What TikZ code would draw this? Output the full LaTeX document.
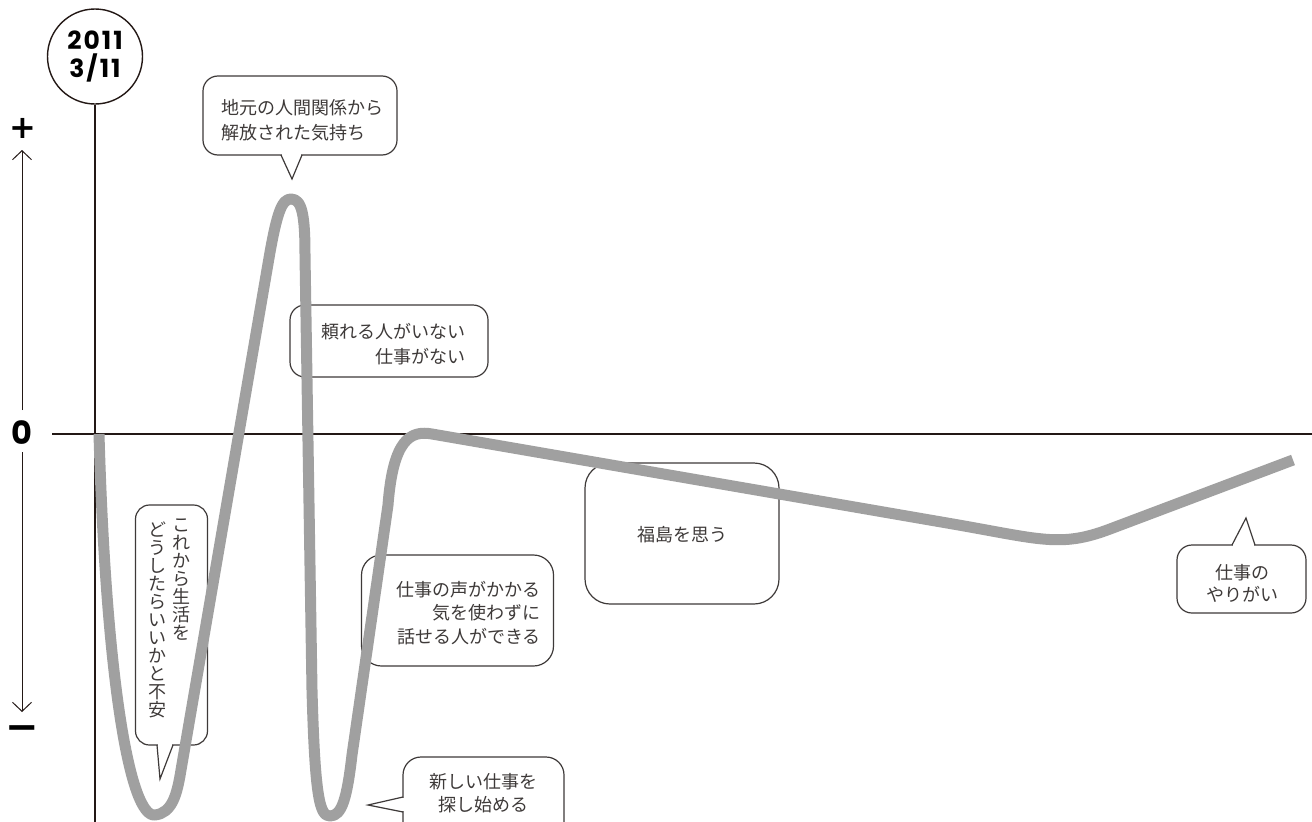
\documentclass[tikz,border=0pt]{standalone}
\usepackage{fontspec}
\usetikzlibrary{arrows.meta,calc}
\newfontfamily\jp{Noto Sans CJK JP}
\newfontfamily\numf{Poppins}
\newfontfamily\datef{Poppins}[LetterSpace=8]
\newfontfamily\symf{DejaVu Sans}
\definecolor{axisc}{HTML}{231815}
\definecolor{boxc}{HTML}{3E3A39}
\definecolor{txtc}{HTML}{3E3A39}
\definecolor{curvec}{RGB}{160,160,160}
\tikzset{
  axisline/.style={draw=axisc, line width=2pt},
  arr/.style={draw=axisc, line width=1pt, -{Straight Barb[length=9pt,width=19pt]}},
  cbox/.style={draw=boxc, line width=1.2pt, fill=white, inner sep=0pt},
  ptr/.style={draw=boxc, line width=1.2pt, line join=miter},
  jptext/.style={font=\jp\fontsize{18}{25}\selectfont, text=txtc, inner sep=0pt},
  bignum/.style={font=\numf\bfseries\fontsize{32}{34}\selectfont, text=black, inner sep=0pt},
  bigsym/.style={font=\symf\bfseries\fontsize{32}{34}\selectfont, text=black, inner sep=0pt},
  curve/.style={draw=curvec, line width=11pt, line cap=butt, line join=round}
}
\begin{document}
\begin{tikzpicture}[x=1pt,y=-1pt]
\useasboundingbox (0,0) rectangle (1312,822);
\fill[white] (0,0) rectangle (1312,822);

% date circle and axes
\node[circle, draw=axisc, line width=1.4pt, minimum size=95pt, inner sep=0pt,
      font=\datef\bfseries\fontsize{25}{28}\selectfont, align=center] (date) at (95,56.5) {2011\\3/11};
\coordinate (axbot) at (95,822);
\draw[axisline] (date.south) -- (axbot);
\coordinate (hl) at (52,434);
\coordinate (hr) at (1312,434);
\draw[axisline] (hl) -- (hr);

% scale at left
\node[bigsym] (plus) at (23,128) {+};
\node[bignum] (zero) at (22,433) {0};
\node[bigsym, font=\symf\bfseries\fontsize{40}{42}\selectfont] (minus) at (22,733) {−};
\coordinate (u0) at (22,410);
\coordinate (u1) at (22,150);
\coordinate (d0) at (22,452);
\coordinate (d1) at (22,712);
\draw[arr] (u0) -- (u1);
\draw[arr] (d0) -- (d1);

% callout 1
\node[cbox, rounded corners=15pt, minimum width=194pt, minimum height=79pt] (b1) at (300,115.5) {};
\fill[white] (282,153) rectangle (301,157.5);
\draw[ptr] (281,155) -- (292,179) -- (302,155);
\node[jptext, anchor=west, align=left] (t1) at (221,120) {地元の人間関係から\\解放された気持ち};

% callout 2
\node[cbox, rounded corners=15pt, minimum width=198pt, minimum height=72pt] (b2) at (389,341) {};
\node[jptext, anchor=east, align=right] (t2) at (466,344.5) {頼れる人がいない\\仕事がない};

% callout 3 (vertical text)
\node[cbox, rounded corners=14pt, minimum width=72pt, minimum height=240pt] (b3) at (171.5,625) {};
\fill[white] (158,743) rectangle (172,747.5);
\draw[ptr] (157,745) -- (160,779) -- (173,745);
\node[jptext, font=\jp\fontsize{18}{18}\selectfont, anchor=north, align=center] (t3a) at (181,519)
  {こ\\れ\\か\\ら\\生\\活\\を};
\node[jptext, font=\jp\fontsize{18}{18}\selectfont, anchor=north, align=center] (t3b) at (157,522)
  {ど\\う\\し\\た\\ら\\い\\い\\か\\と\\不\\安};

% callout 4
\node[cbox, rounded corners=20pt, minimum width=192pt, minimum height=111pt] (b4) at (457.5,610.5) {};
\node[jptext, font=\jp\fontsize{18}{23.5}\selectfont, anchor=east, align=right] (t4) at (541,613)
  {仕事の声がかかる\\気を使わずに\\話せる人ができる};

% callout 5
\node[cbox, rounded corners=18pt, minimum width=161pt, minimum height=90pt] (b5) at (483.5,802) {};
\fill[white] (401,798) rectangle (405.5,811);
\draw[ptr] (403,797) -- (368,805) -- (403,812);
\node[jptext, font=\jp\fontsize{18}{23}\selectfont, align=center] (t5) at (483,793.5) {新しい仕事を\\探し始める};

% callout 6
\node[cbox, rounded corners=25pt, minimum width=194pt, minimum height=141pt] (b6) at (682,533.5) {};
\node[jptext] (t6) at (682,535) {福島を思う};

% callout 7
\node[cbox, rounded corners=15pt, minimum width=129pt, minimum height=68pt] (b7) at (1241.5,579) {};
\fill[white] (1233,542.5) rectangle (1254,547);
\draw[ptr] (1232,545) -- (1246,518) -- (1255,545);
\node[jptext, font=\jp\fontsize{18}{22}\selectfont, align=center] (t7) at (1242,583) {仕事の\\やりがい};

% mood curve
\draw[curve] (99,434) .. controls (106,680) and (130,818) .. (155,815)
  .. controls (172,813) and (177,795) .. (181,770)
  -- (269,258) .. controls (277,212) and (282,199) .. (291,199)
  .. controls (302,199) and (305,215) .. (305,255)
  -- (312,690) .. controls (315,800) and (320,816) .. (330,816)
  .. controls (342,816) and (347,798) .. (352,755)
  -- (388,505) .. controls (393,440) and (410,430) .. (432,434)
  -- (950,523.5) .. controls (1040,539) and (1060,548) .. (1110,529)
  -- (1293,460);
\end{tikzpicture}
\end{document}
